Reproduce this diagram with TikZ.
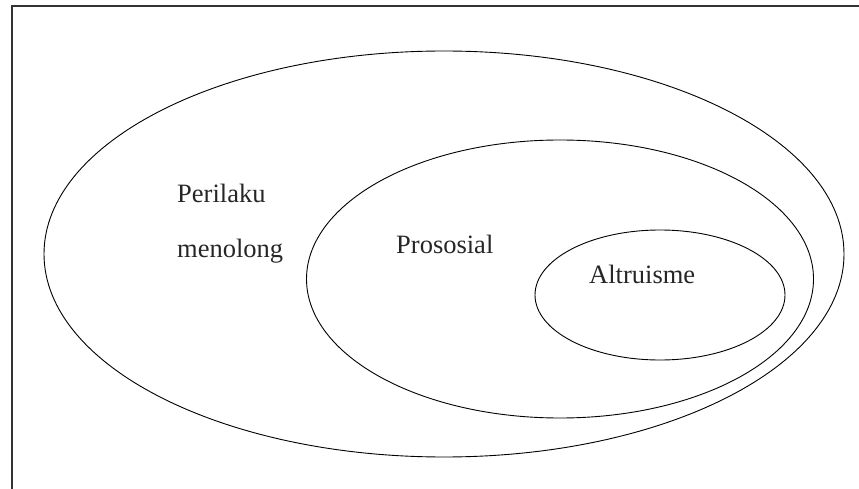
\documentclass[tikz,border=0pt]{standalone}
\usepackage{fontspec}
\setmainfont{Liberation Serif}
\usetikzlibrary{shapes.geometric,positioning}

\begin{document}
\begin{tikzpicture}[
  x=1pt, y=-1pt,
  set/.style={draw, ellipse, line width=0.9pt, inner sep=0pt},
  lbl/.style={anchor=base west, inner sep=0pt, font=\fontsize{26.5}{32}\selectfont, text=black!85},
  frame/.style={line width=1.4pt, draw=black!80}
]
\useasboundingbox (0,0) rectangle (859,489);
% frame, only top and left edge visible
\coordinate (ftl) at (12,6);
\coordinate (ftr) at (859,6);
\coordinate (fbl) at (12,489);
\draw[frame] (fbl) -- (ftl) -- (ftr);

% nested sets
\node (perilaku) [set, minimum width=800pt, minimum height=406pt] at (444,254) {};
\node (prososial) [set, minimum width=507pt, minimum height=278pt] at (560,279) {};
\node (altruisme) [set, minimum width=250pt, minimum height=130pt] at (660,295) {};

% labels
\node (t1) [lbl] at (177,203) {Perilaku};
\node (t2) [lbl] at (177,257) {menolong};
\node (t3) [lbl] at (396,253) {Prososial};
\node (t4) [lbl] at (589,283) {Altruisme};
\end{tikzpicture}
\end{document}
